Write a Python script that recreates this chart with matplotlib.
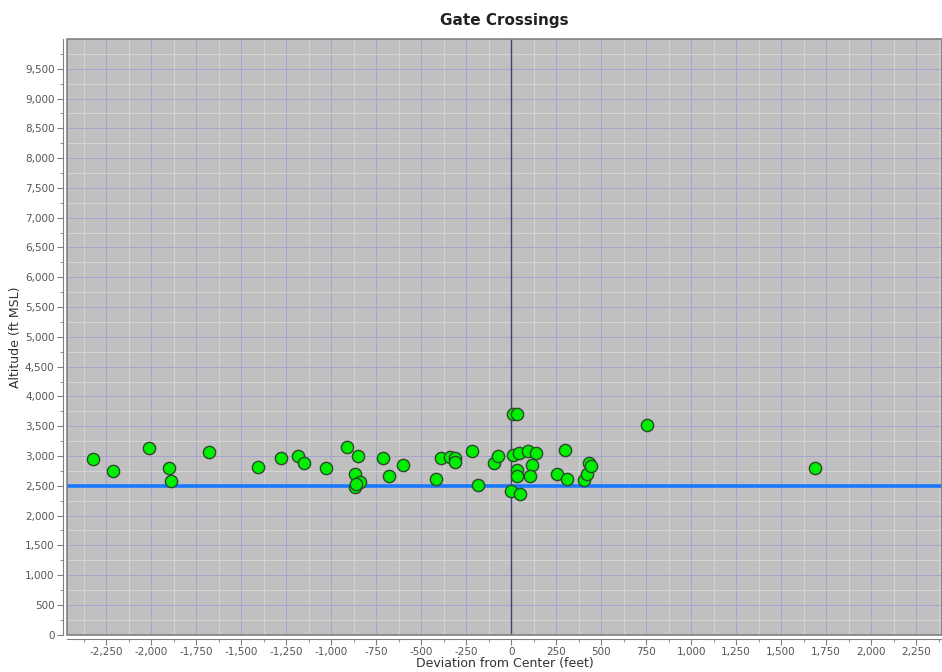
import matplotlib
matplotlib.use("Agg")
import numpy as np
import matplotlib.pyplot as plt
from matplotlib.ticker import MultipleLocator, FixedLocator, FuncFormatter
from matplotlib.patches import Rectangle

title = "Gate Crossings"
x_label = "Deviation from Center (feet)"
y_label = "Altitude (ft MSL)"
gate_altitude = 2500

deviation = [-2326, -2213, -2015, -1900, -1891, -1681, -1404, -1279, -1185, -1150,
             -1028, -913, -852, -870, -839, -870, -862, -713, -681, -602,
             -418, -389, -339, -311, -311, -215, -185, -98, -74,
             13, 32, 13, 41, 32, 32, -2, 50, 96, 139, 115, 102,
             254, 300, 309, 406, 420, 430, 443, 757, 1691]
altitude = [2953, 2744, 3126, 2801, 2576, 3070, 2811, 2958, 2997, 2874,
            2801, 3148, 2997, 2705, 2566, 2481, 2530, 2970, 2660, 2857,
            2616, 2970, 2987, 2970, 2902, 3081, 2509, 2874, 2997,
            3699, 3699, 3025, 3042, 2761, 2672, 2407, 2364, 3081, 3054, 2857, 2660,
            2705, 3098, 2616, 2604, 2705, 2874, 2840, 3513, 2801]

fig = plt.figure(figsize=(9.42, 6.72), dpi=100)
ax = fig.add_axes([67/942, 1-634.7/672, 1-67/942, (634.7-39.3)/672])
ax.set_facecolor("#c0c0c0")
ax.set_xlim(-2468, 2394)
ax.set_ylim(0, 9995)

ax.xaxis.set_major_locator(MultipleLocator(250))
ax.xaxis.set_minor_locator(FixedLocator(np.arange(-2625, 2500, 250)))
ax.yaxis.set_major_locator(MultipleLocator(500))
ax.yaxis.set_minor_locator(FixedLocator(np.arange(250, 10000, 500)))
fmt = FuncFormatter(lambda v, p: f"{int(round(v)):,}")
ax.xaxis.set_major_formatter(fmt)
ax.yaxis.set_major_formatter(fmt)

ax.grid(True, which="minor", color="#d4d4d4", linewidth=0.72, zorder=0,
        antialiased=False, snap=True)
ax.grid(True, which="major", color="#a4a4cc", linewidth=0.72, zorder=0,
        antialiased=False, snap=True)
ax.set_axisbelow(True)

for s in ["top", "right"]:
    ax.spines[s].set_visible(False)
for s in ["left", "bottom"]:
    ax.spines[s].set_position(("outward", 3))
    ax.spines[s].set_color("#808080")
ax.add_patch(Rectangle((0, 0), 1, 1, transform=ax.transAxes, fill=False,
                       edgecolor="#808080", linewidth=1.2, zorder=5, clip_on=False))

ax.tick_params(which="major", length=4, color="#808080", labelsize=7.5,
               labelcolor="#555555", direction="out", pad=2)
ax.tick_params(which="minor", length=2, color="#808080", direction="out")

ax.axvline(0, color="#40407a", linewidth=1.0, zorder=2)
ax.axhline(gate_altitude, color="#1a78ff", linewidth=2.6, zorder=3)

ax.scatter(deviation, altitude, s=78, c="#00ee00", edgecolors="#2a4a2a",
           linewidths=1.0, zorder=4)

ax.set_title(title, fontsize=11, fontweight="bold", color="#222222", pad=10)
ax.set_xlabel(x_label, fontsize=9, color="#333333", labelpad=0)
ax.set_ylabel(y_label, fontsize=9, color="#333333", labelpad=2)

fig.savefig("out.png", dpi=100)
